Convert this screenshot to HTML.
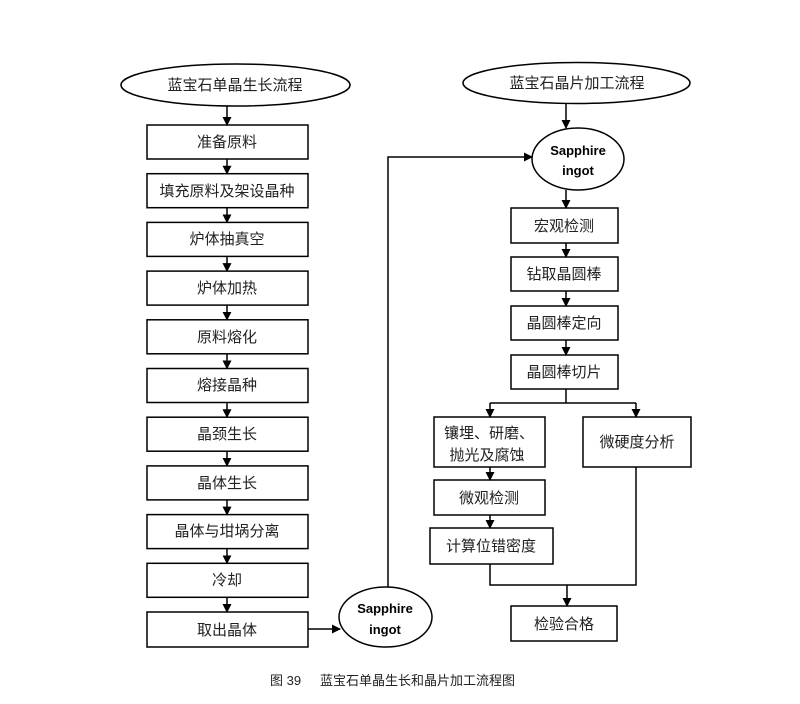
<!DOCTYPE html>
<html><head><meta charset="utf-8"><style>
html,body{margin:0;padding:0;background:#fff;}
svg text{font-family:"Liberation Sans","Noto Sans CJK SC",sans-serif;}
</style></head><body>
<svg width="800" height="699" viewBox="0 0 800 699" xmlns="http://www.w3.org/2000/svg">
<defs><marker id="a" markerWidth="9" markerHeight="9" refX="8" refY="4.5" orient="auto" markerUnits="userSpaceOnUse"><path d="M0,0 L9,4.5 L0,9 z" fill="#000"/></marker></defs>
<g fill="none" stroke="#000" stroke-width="1.5">
<ellipse cx="235.5" cy="85" rx="114.5" ry="21"/>
<ellipse cx="576.5" cy="83" rx="113.5" ry="20.5"/>
<ellipse cx="385.5" cy="617" rx="46.5" ry="30"/>
<ellipse cx="578" cy="159" rx="46" ry="31"/>
</g>
<g fill="#fff" stroke="#000" stroke-width="1.5">
<rect x="147" y="125" width="161" height="34"/>
<rect x="147" y="173.7" width="161" height="34"/>
<rect x="147" y="222.4" width="161" height="34"/>
<rect x="147" y="271.1" width="161" height="34"/>
<rect x="147" y="319.8" width="161" height="34"/>
<rect x="147" y="368.5" width="161" height="34"/>
<rect x="147" y="417.2" width="161" height="34"/>
<rect x="147" y="465.9" width="161" height="34"/>
<rect x="147" y="514.6" width="161" height="34"/>
<rect x="147" y="563.3" width="161" height="34"/>
<rect x="147" y="612" width="161" height="35"/>
<rect x="511" y="208" width="107" height="35"/>
<rect x="511" y="257" width="107" height="34"/>
<rect x="511" y="306" width="107" height="34"/>
<rect x="511" y="355" width="107" height="34"/>
<rect x="434" y="417" width="111" height="50"/>
<rect x="583" y="417" width="108" height="50"/>
<rect x="434" y="480" width="111" height="35"/>
<rect x="430" y="528" width="123" height="36"/>
<rect x="511" y="606" width="106" height="35"/>
</g>
<g stroke="#000" stroke-width="1.5" fill="none" marker-end="url(#a)">
<line x1="227" y1="106" x2="227" y2="125"/>
<line x1="227" y1="159" x2="227" y2="173.7"/>
<line x1="227" y1="207.7" x2="227" y2="222.4"/>
<line x1="227" y1="256.4" x2="227" y2="271.1"/>
<line x1="227" y1="305.1" x2="227" y2="319.8"/>
<line x1="227" y1="353.8" x2="227" y2="368.5"/>
<line x1="227" y1="402.5" x2="227" y2="417.2"/>
<line x1="227" y1="451.2" x2="227" y2="465.9"/>
<line x1="227" y1="499.9" x2="227" y2="514.6"/>
<line x1="227" y1="548.6" x2="227" y2="563.3"/>
<line x1="227" y1="597.3" x2="227" y2="612"/>
<line x1="308" y1="629" x2="340" y2="629"/>
<polyline points="388,587 388,157 532,157"/>
<line x1="566" y1="103" x2="566" y2="128"/>
<line x1="566" y1="190" x2="566" y2="208"/>
<line x1="566" y1="243" x2="566" y2="257"/>
<line x1="566" y1="291" x2="566" y2="306"/>
<line x1="566" y1="340" x2="566" y2="355"/>
<polyline points="490,403 490,417"/>
<polyline points="636,403 636,417"/>
<line x1="490" y1="467" x2="490" y2="480"/>
<line x1="490" y1="515" x2="490" y2="528"/>
<line x1="567" y1="585" x2="567" y2="606"/>
</g>
<g stroke="#000" stroke-width="1.5" fill="none">
<polyline points="566,389 566,403"/>
<line x1="490" y1="403" x2="636" y2="403"/>
<polyline points="490,564 490,585 636,585 636,467"/>
</g>
<g font-size="15" text-anchor="middle" fill="#222">
<text x="235" y="90">蓝宝石单晶生长流程</text>
<text x="577" y="88">蓝宝石晶片加工流程</text>
<text x="227" y="147">准备原料</text>
<text x="227" y="196">填充原料及架设晶种</text>
<text x="227" y="244">炉体抽真空</text>
<text x="227" y="293">炉体加热</text>
<text x="227" y="342">原料熔化</text>
<text x="227" y="390">熔接晶种</text>
<text x="227" y="439">晶颈生长</text>
<text x="227" y="488">晶体生长</text>
<text x="227" y="536">晶体与坩埚分离</text>
<text x="227" y="585">冷却</text>
<text x="227" y="635">取出晶体</text>
<text x="564" y="231">宏观检测</text>
<text x="564" y="279">钻取晶圆棒</text>
<text x="564" y="328">晶圆棒定向</text>
<text x="564" y="377">晶圆棒切片</text>
<text x="489" y="438">镶埋、研磨、</text>
<text x="487" y="460">抛光及腐蚀</text>
<text x="637" y="447">微硬度分析</text>
<text x="489" y="503">微观检测</text>
<text x="491" y="551">计算位错密度</text>
<text x="564" y="629">检验合格</text>
</g>
<g font-size="13" font-weight="bold" text-anchor="middle" fill="#000">
<text x="385" y="613">Sapphire</text>
<text x="385" y="634">ingot</text>
<text x="578" y="155">Sapphire</text>
<text x="578" y="175">ingot</text>
</g>
<text x="270" y="685" font-size="13" fill="#222">图 39</text>
<text x="320" y="685" font-size="13" fill="#222">蓝宝石单晶生长和晶片加工流程图</text>
</svg>
</body></html>
